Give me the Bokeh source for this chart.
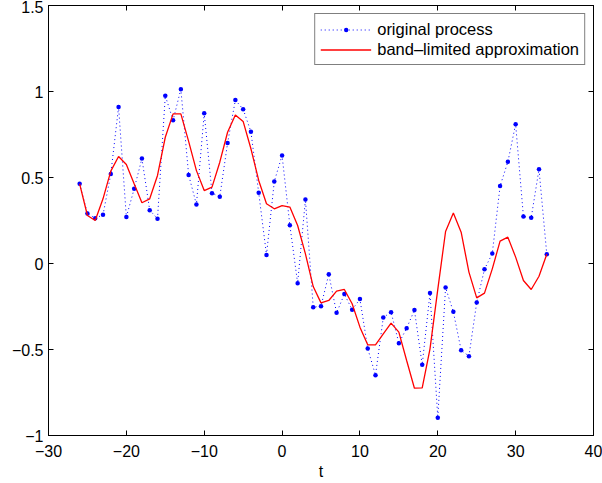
from bokeh.plotting import figure
from bokeh.models import LinearAxis, FixedTicker, CustomJSTickFormatter, Range1d, Legend, LegendItem
from bokeh.embed import file_html
from bokeh.resources import INLINE

t = list(range(-26, 35))
original = [0.463, 0.29, 0.263, 0.283, 0.52, 0.91, 0.27, 0.434, 0.61, 0.31,
            0.26, 0.975, 0.833, 1.013, 0.515, 0.343, 0.874, 0.409, 0.388, 0.70,
            0.95, 0.897, 0.766, 0.411, 0.05, 0.477, 0.628, 0.223, -0.115, 0.372,
            -0.254, -0.248, -0.062, -0.287, -0.178, -0.269, -0.207, -0.494, -0.649, -0.314,
            -0.283, -0.463, -0.376, -0.271, -0.589, -0.172, -0.897, -0.14, -0.281, -0.504,
            -0.539, -0.227, -0.033, 0.058, 0.45, 0.591, 0.81, 0.273, 0.266, 0.548,
            0.054]
approx = [0.463, 0.279, 0.25, 0.376, 0.537, 0.622, 0.576, 0.463, 0.353, 0.376,
          0.512, 0.734, 0.87, 0.87, 0.71, 0.54, 0.424, 0.444, 0.589, 0.763,
          0.864, 0.826, 0.667, 0.483, 0.347, 0.318, 0.337, 0.328, 0.221, 0.056,
          -0.134, -0.229, -0.215, -0.161, -0.151, -0.234, -0.37, -0.473, -0.473, -0.409,
          -0.347, -0.399, -0.564, -0.725, -0.723, -0.496, -0.15, 0.186, 0.293, 0.182,
          -0.05, -0.2, -0.172, -0.031, 0.13, 0.153, 0.037, -0.099, -0.151, -0.074,
          0.054]
x_ticks = [-30, -20, -10, 0, 10, 20, 30, 40]
y_ticks = [-1, -0.5, 0, 0.5, 1, 1.5]
x_label = "t"
labels = ["original process", "band–limited approximation"]

FONT = "Liberation Sans"
FS = "16px"

p = figure(width=602, height=483, output_backend="svg", toolbar_location=None,
           x_range=Range1d(-30, 40), y_range=Range1d(-1, 1.5),
           min_border_left=48, min_border_right=9, min_border_top=5, min_border_bottom=48,
           x_axis_location=None, y_axis_location=None)
p.xgrid.visible = False
p.ygrid.visible = False
p.outline_line_color = "black"
p.outline_line_width = 1
p.background_fill_color = "white"
p.border_fill_color = "white"

fmt = CustomJSTickFormatter(code="""
var a = Math.abs(tick);
var s = (Math.round(a*100)/100).toString();
return (tick < 0 ? '\\u2212' : '') + s;
""")

def style(ax, labels_on):
    ax.axis_line_color = "black"
    ax.major_tick_line_color = "black"
    ax.minor_tick_line_color = None
    ax.major_tick_in = 5
    ax.major_tick_out = 0
    if labels_on:
        ax.major_label_text_font = FONT
        ax.major_label_text_font_size = FS
        ax.major_label_text_color = "black"
        ax.formatter = fmt
    else:
        ax.major_label_text_font_size = "1px"
        ax.major_label_text_color = None
        ax.major_label_standoff = 0

xb = LinearAxis(ticker=FixedTicker(ticks=x_ticks))
style(xb, True)
xb.major_label_standoff = 9
xb.axis_label = x_label
xb.axis_label_text_font = FONT
xb.axis_label_text_font_size = FS
xb.axis_label_text_font_style = "normal"
xb.axis_label_text_color = "black"
xb.axis_label_standoff = 3
p.add_layout(xb, "below")

yl = LinearAxis(ticker=FixedTicker(ticks=y_ticks))
style(yl, True)
yl.major_label_standoff = 5
p.add_layout(yl, "left")

xt = LinearAxis(ticker=FixedTicker(ticks=x_ticks))
style(xt, False)
p.add_layout(xt, "above")
yr = LinearAxis(ticker=FixedTicker(ticks=y_ticks))
style(yr, False)
p.add_layout(yr, "right")

l1 = p.line(t, original, line_color="blue", line_width=1, line_dash="1 3")
s1 = p.scatter(t, original, size=4.5, fill_color="blue", line_color=None, marker="circle")
l2 = p.line(t, approx, line_color="red", line_width=1.3)

legend = Legend(items=[LegendItem(label=labels[0], renderers=[l1, s1]),
                       LegendItem(label=labels[1], renderers=[l2])],
                location="top_right")
legend.label_text_font = FONT
legend.label_text_font_size = "16.5px"
legend.label_text_color = "black"
legend.border_line_color = "black"
legend.border_line_width = 1
legend.background_fill_alpha = 1
legend.glyph_width = 51
legend.glyph_height = 11
legend.label_height = 20
legend.label_standoff = 6
legend.spacing = 0
legend.padding = 5
legend.margin = 8
p.add_layout(legend)

open("out.html", "w").write(file_html(p, INLINE))
